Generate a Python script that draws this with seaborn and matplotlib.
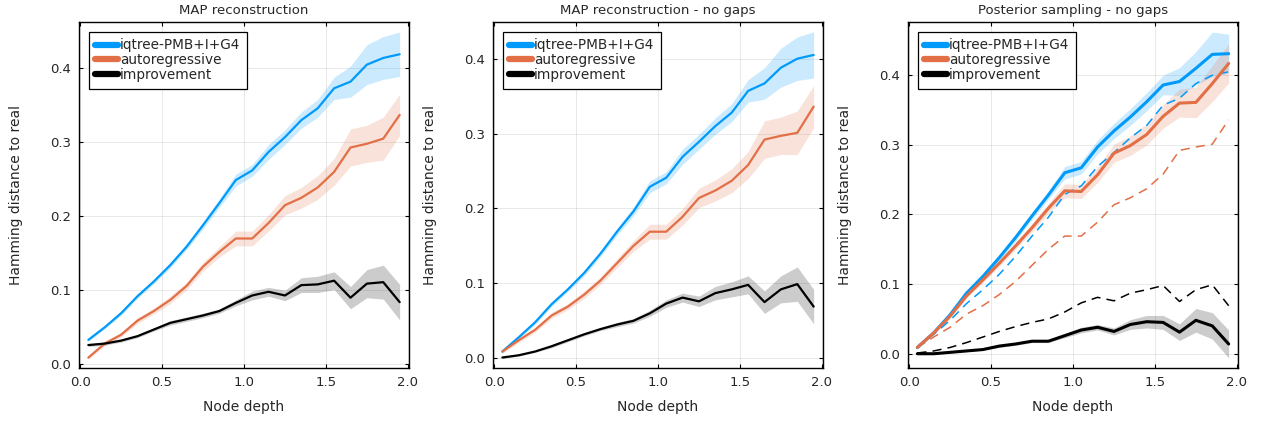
import numpy as np
import pandas as pd
import matplotlib
matplotlib.use("Agg")
import matplotlib.pyplot as plt
import seaborn as sns

# ---------------- data ----------------
depth = [0.05, 0.15, 0.25, 0.35, 0.45, 0.55, 0.65, 0.75, 0.85, 0.95,
         1.05, 1.15, 1.25, 1.35, 1.45, 1.55, 1.65, 1.75, 1.85, 1.95]

titles = ["MAP reconstruction", "MAP reconstruction - no gaps", "Posterior sampling - no gaps"]
series_names = ["iqtree-PMB+I+G4", "autoregressive", "improvement"]

# Panel 1: MAP reconstruction
p1_iqtree = [0.032, 0.049, 0.068, 0.091, 0.111, 0.133, 0.158, 0.187, 0.217, 0.248,
             0.261, 0.286, 0.306, 0.329, 0.345, 0.372, 0.381, 0.404, 0.413, 0.418]
p1_iqtree_err = [0.002, 0.002, 0.003, 0.003, 0.003, 0.004, 0.004, 0.005, 0.006, 0.008,
                 0.008, 0.010, 0.010, 0.011, 0.012, 0.015, 0.021, 0.027, 0.029, 0.030]
p1_autoreg = [0.008, 0.027, 0.039, 0.058, 0.071, 0.086, 0.105, 0.131, 0.151, 0.169,
              0.169, 0.190, 0.214, 0.224, 0.238, 0.259, 0.292, 0.297, 0.304, 0.336]
p1_autoreg_err = [0.002, 0.003, 0.003, 0.004, 0.004, 0.005, 0.005, 0.006, 0.007, 0.010,
                  0.010, 0.011, 0.013, 0.014, 0.016, 0.018, 0.025, 0.025, 0.029, 0.028]
p1_improve = [0.025, 0.027, 0.031, 0.037, 0.046, 0.055, 0.060, 0.065, 0.071, 0.082,
              0.092, 0.097, 0.092, 0.106, 0.107, 0.112, 0.089, 0.108, 0.110, 0.083]
p1_improve_err = [0.002, 0.002, 0.002, 0.002, 0.002, 0.003, 0.003, 0.003, 0.003, 0.004,
                  0.006, 0.006, 0.007, 0.010, 0.011, 0.012, 0.015, 0.019, 0.023, 0.024]

# Panel 2: MAP reconstruction - no gaps
p2_iqtree = [0.009, 0.028, 0.048, 0.072, 0.092, 0.114, 0.140, 0.169, 0.196, 0.229,
             0.241, 0.269, 0.289, 0.310, 0.328, 0.357, 0.367, 0.388, 0.400, 0.405]
p2_iqtree_err = [0.002, 0.002, 0.003, 0.003, 0.003, 0.004, 0.004, 0.005, 0.006, 0.008,
                 0.008, 0.010, 0.010, 0.011, 0.012, 0.015, 0.021, 0.026, 0.029, 0.031]
p2_autoreg = [0.009, 0.024, 0.038, 0.057, 0.069, 0.085, 0.104, 0.127, 0.150, 0.169,
              0.169, 0.189, 0.214, 0.224, 0.237, 0.258, 0.292, 0.297, 0.301, 0.336]
p2_autoreg_err = [0.002, 0.003, 0.003, 0.004, 0.004, 0.005, 0.005, 0.006, 0.007, 0.010,
                  0.010, 0.011, 0.013, 0.014, 0.016, 0.018, 0.025, 0.025, 0.029, 0.028]
p2_improve = [0.001, 0.004, 0.009, 0.016, 0.024, 0.032, 0.039, 0.045, 0.050, 0.060,
              0.073, 0.081, 0.076, 0.087, 0.092, 0.098, 0.075, 0.092, 0.099, 0.069]
p2_improve_err = [0.001, 0.001, 0.001, 0.002, 0.002, 0.002, 0.002, 0.003, 0.003, 0.004,
                  0.005, 0.006, 0.007, 0.009, 0.010, 0.012, 0.015, 0.018, 0.023, 0.023]

# Panel 3: Posterior sampling - no gaps
p3_iqtree = [0.009, 0.030, 0.056, 0.087, 0.111, 0.138, 0.167, 0.198, 0.228, 0.260,
             0.267, 0.297, 0.320, 0.340, 0.362, 0.386, 0.391, 0.410, 0.430, 0.431]
p3_iqtree_err = [0.002, 0.002, 0.003, 0.003, 0.004, 0.004, 0.005, 0.005, 0.006, 0.009,
                 0.009, 0.010, 0.011, 0.012, 0.013, 0.014, 0.020, 0.024, 0.032, 0.028]
p3_autoreg = [0.009, 0.030, 0.054, 0.083, 0.106, 0.130, 0.155, 0.181, 0.209, 0.234,
              0.233, 0.257, 0.288, 0.299, 0.315, 0.341, 0.360, 0.361, 0.388, 0.417]
p3_autoreg_err = [0.002, 0.002, 0.003, 0.003, 0.004, 0.004, 0.005, 0.006, 0.007, 0.010,
                  0.010, 0.011, 0.013, 0.014, 0.015, 0.017, 0.020, 0.022, 0.026, 0.028]
p3_improve = [0.000, 0.000, 0.002, 0.004, 0.006, 0.011, 0.014, 0.018, 0.018, 0.026,
              0.034, 0.038, 0.032, 0.042, 0.046, 0.045, 0.031, 0.048, 0.040, 0.014]
p3_improve_err = [0.001, 0.001, 0.001, 0.001, 0.001, 0.002, 0.002, 0.002, 0.002, 0.003,
                  0.004, 0.004, 0.005, 0.007, 0.009, 0.010, 0.012, 0.017, 0.019, 0.020]

xticks = [0.0, 0.5, 1.0, 1.5, 2.0]
yticks = [0.0, 0.1, 0.2, 0.3, 0.4]
ylims = [(-0.006, 0.4616), (-0.013, 0.449), (-0.0205, 0.4765)]

# ---------------- style ----------------
sns.set_theme(style="white")
plt.rcParams["font.family"] = ["DejaVu Sans"]

colors = ["#009AFA", "#E26F46", "#000000"]

fig = plt.figure(figsize=(12.68, 4.23), dpi=100)
lefts = [79 / 1268, 493 / 1268, 908 / 1268]
width = 330 / 1268
bottom = 1 - 368 / 423
height = 346 / 423

panels = [
    [(p1_iqtree, p1_iqtree_err), (p1_autoreg, p1_autoreg_err), (p1_improve, p1_improve_err)],
    [(p2_iqtree, p2_iqtree_err), (p2_autoreg, p2_autoreg_err), (p2_improve, p2_improve_err)],
    [(p3_iqtree, p3_iqtree_err), (p3_autoreg, p3_autoreg_err), (p3_improve, p3_improve_err)],
]
dashed_ref = [p2_iqtree, p2_autoreg, p2_improve]

x = np.array(depth)
for i in range(3):
    ax = fig.add_axes([lefts[i], bottom, width, height])
    lw = 2.2 if i == 2 else 1.6
    handles = []
    for j, (vals, err) in enumerate(panels[i]):
        v = np.array(vals)
        e = np.array(err)
        ax.fill_between(x, v - e, v + e, color=colors[j], alpha=0.2, linewidth=0, zorder=1)
    if i == 2:
        for j, vals in enumerate(dashed_ref):
            df = pd.DataFrame({"depth": depth, "val": vals})
            sns.lineplot(data=df, x="depth", y="val", ax=ax, color=colors[j],
                         linewidth=1.1, linestyle=(0, (6, 4)), legend=False, zorder=2)
    for j, (vals, err) in enumerate(panels[i]):
        df = pd.DataFrame({"depth": depth, "val": vals})
        sns.lineplot(data=df, x="depth", y="val", ax=ax, color=colors[j],
                     linewidth=lw, legend=False, zorder=3)
        handles.append(plt.Line2D([0], [0], color=colors[j], linewidth=4.5))

    ax.set_xlim(-0.007, 2.007)
    ax.set_ylim(*ylims[i])
    ax.set_xticks(xticks)
    ax.set_yticks(yticks)
    ax.set_xticklabels([f"{t:.1f}" for t in xticks])
    ax.set_yticklabels([f"{t:.1f}" for t in yticks])
    ax.grid(True, color="#000000", alpha=0.1, linewidth=0.6)
    ax.tick_params(direction="in", length=3, width=0.8, labelsize=9.5,
                   top=True, right=True, bottom=True, left=True, color="black", pad=6)
    for s in ax.spines.values():
        s.set_color("black")
        s.set_linewidth(1.0)
    ax.set_title(titles[i], fontsize=9.5, pad=6)
    ax.set_xlabel("Node depth", fontsize=10, labelpad=8)
    ax.set_ylabel("Hamming distance to real", fontsize=10, labelpad=19)
    leg = ax.legend(handles, series_names, loc="upper left", fontsize=9.8,
                    frameon=True, fancybox=False, handlelength=1.7, handletextpad=0.1,
                    borderpad=0.5, labelspacing=0.05, borderaxespad=0.7)
    leg.get_frame().set_edgecolor("black")
    leg.get_frame().set_linewidth(0.9)
    leg.get_frame().set_alpha(1.0)

fig.savefig("out.png", dpi=100)
